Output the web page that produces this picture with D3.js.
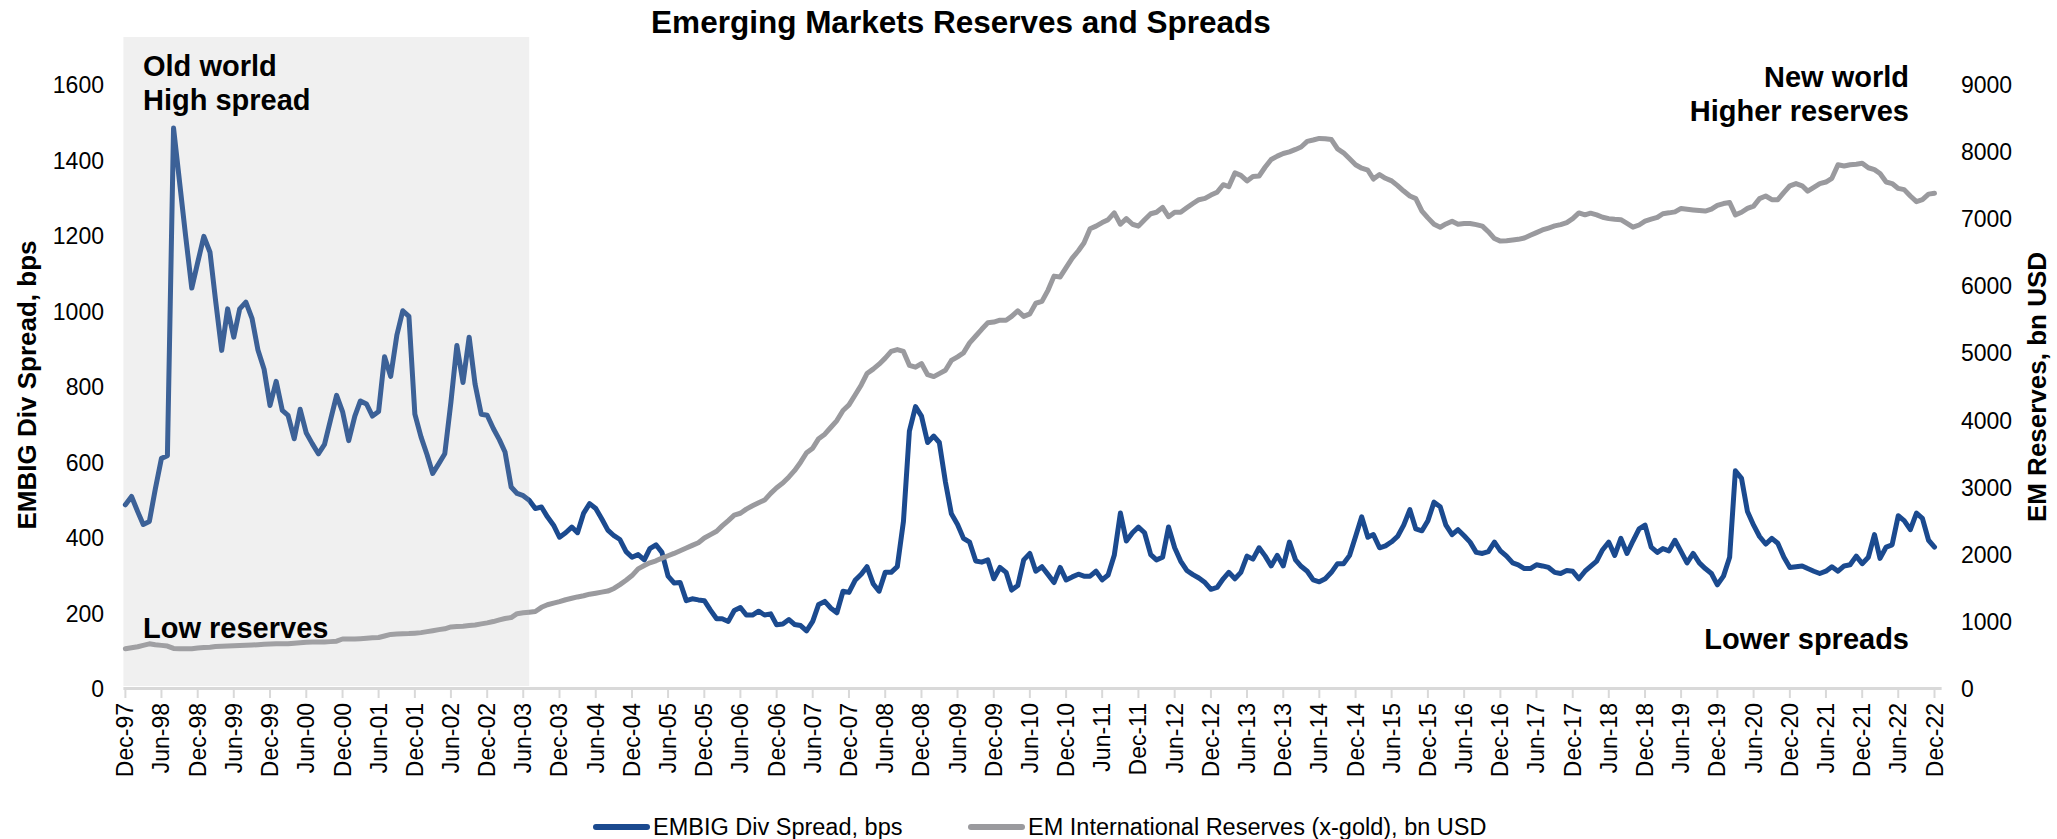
<!DOCTYPE html>
<html>
<head>
<meta charset="utf-8">
<script src="https://cdn.jsdelivr.net/npm/d3@7"></script>
<style>
  html, body { margin: 0; padding: 0; background: #ffffff; }
  svg text { font-family: "Liberation Sans", Arial, sans-serif; fill: #000; }
</style>
</head>
<body>
<svg id="chart" width="2057" height="839"></svg>
<script>
// Monthly observations, December 1997 through December 2022
const firstMonth = { year: 1997, month: 11 };

// EMBIG Diversified spread, basis points (left axis)
const spreadBps = [
  488,510,470,436,444,530,611,618,1486,1340,
  1200,1062,1130,1199,1157,1030,897,1007,932,1007,
  1025,982,898,847,751,815,738,725,663,741,
  678,650,623,648,712,778,735,658,723,763,
  755,723,735,880,828,937,1002,987,728,668,
  620,571,597,623,760,910,812,932,807,728,
  725,690,660,628,535,518,512,500,478,482,
  456,434,402,414,429,414,466,491,478,451,
  421,406,396,364,349,356,342,372,382,362,
  299,281,282,234,239,236,234,209,186,186,
  179,208,216,196,196,206,196,199,170,172,
  184,171,168,154,179,224,232,214,202,259,
  256,288,304,324,279,259,309,309,324,444,
  683,748,723,653,670,653,548,464,436,399,
  389,339,336,342,292,322,309,262,274,342,
  359,312,324,303,282,322,289,297,304,299,
  299,312,289,302,354,466,392,414,429,414,
  356,342,349,429,374,339,314,303,294,282,
  264,269,292,309,292,309,352,344,374,352,
  326,354,326,389,342,325,312,289,284,292,
  309,332,332,354,404,456,402,409,374,379,
  390,404,434,475,424,419,446,495,483,434,
  409,422,406,389,362,359,364,389,366,352,
  334,329,319,319,329,326,322,309,306,314,
  312,292,312,325,339,369,389,354,399,359,
  392,424,434,376,362,372,366,394,364,334,
  359,334,319,306,276,299,349,578,558,470,
  434,404,384,399,386,349,322,324,326,319,
  312,306,312,324,312,326,329,352,332,349,
  409,346,376,382,459,446,422,466,452,394,
  376
];

// EM international reserves excluding gold, bn USD (right axis)
const reservesBn = [
  600,615,630,650,673,660,650,640,605,600,
  600,600,610,617,622,633,636,640,645,648,
  652,656,660,665,670,673,673,675,683,690,
  695,700,700,700,706,712,745,745,745,750,
  757,762,767,790,813,818,822,826,832,840,
  855,869,885,897,925,930,936,945,954,970,
  985,1005,1030,1050,1065,1122,1135,1145,1155,1217,
  1255,1280,1301,1330,1352,1372,1390,1413,1428,1443,
  1459,1498,1555,1620,1690,1790,1840,1880,1910,1950,
  1985,2020,2060,2100,2140,2180,2250,2300,2350,2430,
  2510,2591,2619,2680,2730,2775,2815,2916,2999,3068,
  3160,3253,3380,3520,3589,3730,3797,3900,4000,4150,
  4233,4380,4530,4700,4766,4840,4930,5030,5058,5030,
  4823,4795,4850,4683,4655,4700,4750,4896,4950,5008,
  5158,5260,5360,5456,5467,5495,5495,5552,5635,5552,
  5590,5748,5775,5944,6152,6140,6280,6420,6530,6645,
  6858,6897,6950,6993,7094,6925,7009,6925,6897,6993,
  7082,7104,7177,7037,7104,7104,7170,7234,7291,7310,
  7360,7402,7514,7486,7690,7654,7571,7638,7644,7778,
  7890,7940,7980,8003,8040,8076,8159,8180,8204,8200,
  8187,8047,7990,7900,7812,7760,7730,7599,7666,7610,
  7571,7500,7420,7346,7307,7122,7020,6925,6881,6930,
  6970,6925,6935,6937,6920,6897,6814,6712,6674,6680,
  6690,6700,6720,6760,6800,6840,6869,6900,6920,6950,
  7009,7094,7065,7090,7065,7030,7009,7000,6993,6937,
  6881,6914,6970,7000,7027,7082,7095,7110,7161,7150,
  7139,7130,7122,7150,7206,7234,7250,7065,7104,7161,
  7195,7307,7346,7291,7291,7400,7498,7531,7498,7419,
  7475,7531,7554,7610,7812,7794,7812,7820,7834,7767,
  7739,7682,7554,7531,7459,7441,7346,7262,7291,7374,
  7386
];

const spreadTicks = [0, 200, 400, 600, 800, 1000, 1200, 1400, 1600];
const reserveTicks = [0, 1000, 2000, 3000, 4000, 5000, 6000, 7000, 8000, 9000];
const dateTickStepMonths = 6;

// "Old world" period, shaded
const oldWorldEndMonth = 67; // July 2003

const seriesNames = ["EMBIG Div Spread, bps", "EM International Reserves (x-gold), bn USD"];
const colors = { spread: "#1b4a8f", reserves: "#9a9a9e", axis: "#d9d9d9", shade: "#b7b7b7" };

const monthDate = i => new Date(Date.UTC(firstMonth.year, firstMonth.month + i, 1));
const dates = spreadBps.map((_, i) => monthDate(i));

const svg = d3.select("#chart");
const plotTop = 37, plotBottom = 689;

const x = d3.scaleUtc()
  .domain([monthDate(0), monthDate(300)])
  .range([125.4, 1934.5]);
const yLeft = d3.scaleLinear().domain([0, 1600]).range([plotBottom, 85]);
const yRight = d3.scaleLinear().domain([0, 9000]).range([plotBottom, 85]);

// Title
svg.append("text")
  .attr("x", 961).attr("y", 33)
  .attr("text-anchor", "middle")
  .style("font-size", "31.5px").style("font-weight", "bold")
  .text("Emerging Markets Reserves and Spreads");

// Lines
const spreadLine = d3.line()
  .x((d, i) => x(dates[i]))
  .y(d => yLeft(d));
const reservesLine = d3.line()
  .x((d, i) => x(dates[i]))
  .y(d => yRight(d));

svg.append("path")
  .datum(spreadBps)
  .attr("d", spreadLine)
  .attr("fill", "none")
  .attr("stroke", colors.spread)
  .attr("stroke-width", 5)
  .attr("stroke-linejoin", "round")
  .attr("stroke-linecap", "round");

svg.append("path")
  .datum(reservesBn)
  .attr("d", reservesLine)
  .attr("fill", "none")
  .attr("stroke", colors.reserves)
  .attr("stroke-width", 5)
  .attr("stroke-linejoin", "round")
  .attr("stroke-linecap", "round");

// Translucent band over the old-world years
svg.append("rect")
  .attr("x", x(monthDate(0)) - 2)
  .attr("y", plotTop)
  .attr("width", x(monthDate(oldWorldEndMonth)) - x(monthDate(0)) + 2)
  .attr("height", plotBottom - 3 - plotTop)
  .attr("fill", colors.shade)
  .attr("fill-opacity", 0.21);

// Category axis line and ticks
svg.append("line")
  .attr("x1", x(monthDate(0)) - 2).attr("x2", x(monthDate(301)) + 1)
  .attr("y1", plotBottom - 0.5).attr("y2", plotBottom - 0.5)
  .attr("stroke", colors.axis).attr("stroke-width", 3);

const dateTicks = d3.range(0, spreadBps.length, dateTickStepMonths).map(monthDate);
const fmt = d3.utcFormat("%b-%y");

const xAxis = svg.append("g").attr("transform", `translate(0,${plotBottom + 1})`);
xAxis.selectAll("line.tick")
  .data(dateTicks)
  .join("line")
  .attr("class", "tick")
  .attr("x1", d => x(d)).attr("x2", d => x(d))
  .attr("y1", 0).attr("y2", 8)
  .attr("stroke", colors.axis).attr("stroke-width", 2);
xAxis.selectAll("text")
  .data(dateTicks)
  .join("text")
  .attr("transform", d => `translate(${x(d) + 8},13) rotate(-90)`)
  .attr("text-anchor", "end")
  .style("font-size", "23px")
  .text(d => fmt(d));

// Left value axis labels
svg.append("g").selectAll("text")
  .data(spreadTicks)
  .join("text")
  .attr("x", 104).attr("y", d => yLeft(d) + 8)
  .attr("text-anchor", "end")
  .style("font-size", "23px")
  .text(d => d);

// Right value axis labels
svg.append("g").selectAll("text")
  .data(reserveTicks)
  .join("text")
  .attr("x", 1961).attr("y", d => yRight(d) + 8)
  .attr("text-anchor", "start")
  .style("font-size", "23px")
  .text(d => d);

// Axis titles
svg.append("text")
  .attr("transform", "translate(36,385) rotate(-90)")
  .attr("text-anchor", "middle")
  .style("font-size", "26px").style("font-weight", "bold")
  .text("EMBIG Div Spread, bps");
svg.append("text")
  .attr("transform", "translate(2046,387) rotate(-90)")
  .attr("text-anchor", "middle")
  .style("font-size", "26px").style("font-weight", "bold")
  .text("EM Reserves, bn USD");

// Annotations
const notes = [
  { text: "Old world", x: 143, y: 76, anchor: "start" },
  { text: "High spread", x: 143, y: 110, anchor: "start" },
  { text: "Low reserves", x: 143, y: 638, anchor: "start" },
  { text: "New world", x: 1909, y: 87, anchor: "end" },
  { text: "Higher reserves", x: 1909, y: 121, anchor: "end" },
  { text: "Lower spreads", x: 1909, y: 649, anchor: "end" }
];
svg.append("g").selectAll("text")
  .data(notes)
  .join("text")
  .attr("x", d => d.x).attr("y", d => d.y)
  .attr("text-anchor", d => d.anchor)
  .style("font-size", "29px").style("font-weight", "bold")
  .text(d => d.text);

// Legend
const legend = svg.append("g");
const legendItems = [
  { name: seriesNames[0], color: colors.spread, x: 596 },
  { name: seriesNames[1], color: colors.reserves, x: 971 }
];
legendItems.forEach(item => {
  legend.append("line")
    .attr("x1", item.x).attr("x2", item.x + 51)
    .attr("y1", 827).attr("y2", 827)
    .attr("stroke", item.color).attr("stroke-width", 6)
    .attr("stroke-linecap", "round");
  legend.append("text")
    .attr("x", item.x + 57).attr("y", 835)
    .style("font-size", "23.5px")
    .text(item.name);
});
</script>
</body>
</html>
